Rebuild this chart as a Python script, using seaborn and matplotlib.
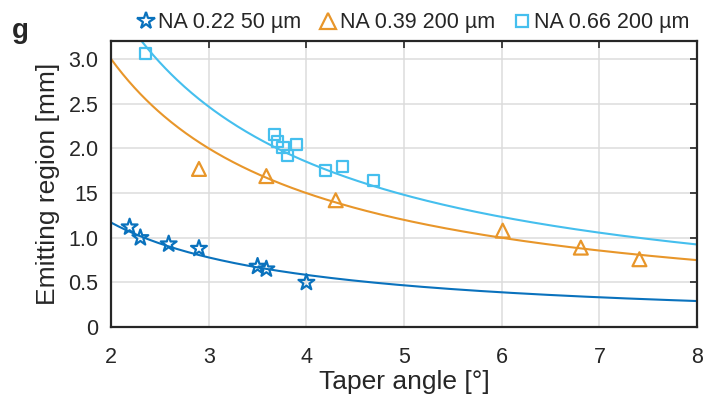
import numpy as np
import pandas as pd
import matplotlib
matplotlib.use("Agg")
import matplotlib.pyplot as plt
from matplotlib.lines import Line2D
import seaborn as sns

# ---- data ----
labels = ["NA 0.22 50 µm", "NA 0.39 200 µm", "NA 0.66 200 µm"]
colors = ["#0A72BD", "#E8962A", "#45BFEE"]
markers = ["*", "^", "s"]

x_na022 = [2.19, 2.30, 2.59, 2.90, 3.50, 3.59, 4.00]
y_na022 = [1.12, 1.00, 0.93, 0.88, 0.68, 0.65, 0.50]

x_na039 = [2.90, 3.59, 4.30, 6.01, 6.81, 7.41]
y_na039 = [1.77, 1.69, 1.42, 1.08, 0.89, 0.76]

x_na066 = [2.35, 3.67, 3.70, 3.76, 3.81, 3.90, 4.20, 4.37, 4.69]
y_na066 = [3.06, 2.16, 2.08, 2.01, 1.92, 2.04, 1.75, 1.80, 1.64]

# fitted curves y = a / x
fit_a = [2.34, 6.0, 7.4]

xticks = [2, 3, 4, 5, 6, 7, 8]
yticks = [0, 0.5, 1.0, 1.5, 2.0, 2.5, 3.0]
ytick_labels = ["0", "0.5", "1.0", "15", "2.0", "2.5", "3.0"]

# ---- plotting ----
sns.set_style("white")
plt.rcParams["font.family"] = ["Liberation Sans", "DejaVu Sans"]

fig = plt.figure(figsize=(7.12, 3.99), dpi=100)
ax = fig.add_axes([0.156, 0.180, 0.823, 0.717])

xs_data = [x_na022, x_na039, x_na066]
ys_data = [y_na022, y_na039, y_na066]
msizes = [12, 10, 8]

xfit = np.linspace(2, 8, 400)
for i in range(3):
    dfit = pd.DataFrame({"x": xfit, "y": fit_a[i] / xfit})
    sns.lineplot(data=dfit, x="x", y="y", ax=ax, color=colors[i], lw=1.5,
                 zorder=2)

for i in range(3):
    d = pd.DataFrame({"x": xs_data[i], "y": ys_data[i]})
    sns.scatterplot(data=d, x="x", y="y", ax=ax, marker=markers[i],
                    s=msizes[i] ** 2, facecolors="none",
                    edgecolor=colors[i], linewidth=1.6, zorder=3)

ax.set_xlim(2, 8)
ax.set_ylim(0, 3.2)
ax.set_xticks(xticks)
ax.set_yticks(yticks)
ax.set_yticklabels(ytick_labels)
ax.grid(True, color="#dcdcdc", lw=1.1)
ax.set_axisbelow(True)
for sp in ax.spines.values():
    sp.set_color("#262626")
    sp.set_linewidth(1.6)
ax.tick_params(direction="in", length=5, width=1.2, color="#262626",
               top=True, right=True, labelsize=15.5, labelcolor="#262626")
ax.tick_params(axis="x", pad=14)
ax.tick_params(axis="y", pad=9)

ax.set_xlabel("Taper angle [°]", fontsize=19, color="#262626", labelpad=2)
ax.set_ylabel("Emitting region [mm]", fontsize=19, color="#262626", labelpad=6)

handles = [Line2D([], [], ls="none", marker=markers[i], ms=msizes[i] + 1,
                  mfc="none", mec=colors[i], mew=1.6) for i in range(3)]
ax.legend(handles, labels, loc="lower right", bbox_to_anchor=(1.005, 0.99),
          ncol=3, frameon=False, fontsize=15.5, handletextpad=0.0,
          columnspacing=0.7, handlelength=1.1, borderaxespad=0.1,
          labelcolor="#262626")

fig.text(0.017, 0.905, "g", fontsize=20, fontweight="bold", color="#262626")

fig.savefig("out.png", dpi=100)
